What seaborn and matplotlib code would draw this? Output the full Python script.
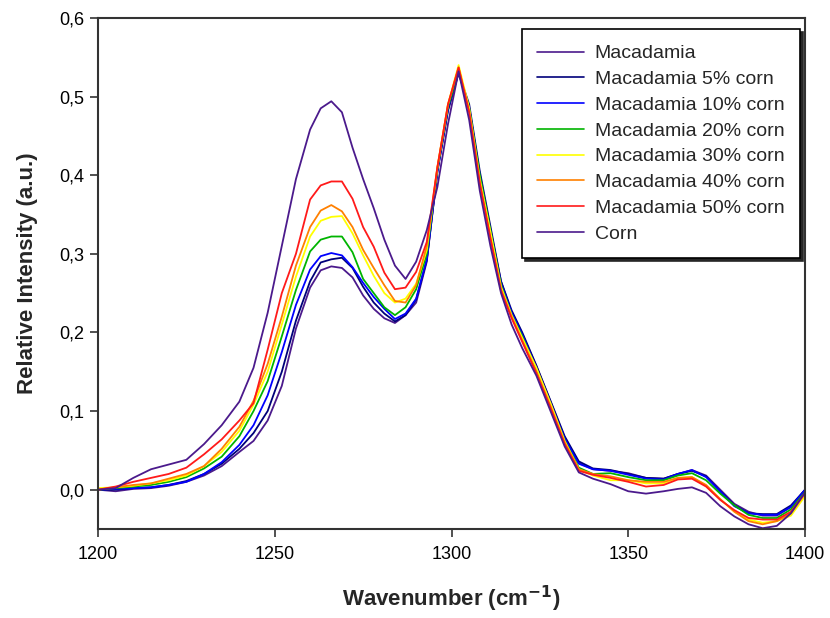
import numpy as np
import pandas as pd
import matplotlib
matplotlib.use("Agg")
import matplotlib.pyplot as plt
from matplotlib.ticker import FuncFormatter
import seaborn as sns

# Wavenumber grid (cm^-1)
wavenumber = [1200, 1205, 1210, 1215, 1220, 1225, 1230, 1235, 1240, 1244,
              1248, 1252, 1256, 1260, 1263, 1266, 1269, 1272, 1275, 1278,
              1281, 1284, 1287, 1290, 1293, 1296, 1299, 1302, 1305, 1308,
              1311, 1314, 1317, 1320, 1324, 1328, 1332, 1336, 1340, 1345,
              1350, 1355, 1360, 1364, 1368, 1372, 1376, 1380, 1384, 1388,
              1392, 1396, 1400]

macadamia = [0.000, -0.002, 0.001, 0.002, 0.005, 0.010, 0.018, 0.030, 0.048, 0.062,
             0.088, 0.132, 0.205, 0.257, 0.279, 0.284, 0.282, 0.270, 0.247, 0.230,
             0.218, 0.212, 0.222, 0.238, 0.290, 0.405, 0.482, 0.530, 0.485, 0.400,
             0.330, 0.265, 0.225, 0.198, 0.157, 0.112, 0.066, 0.034, 0.026, 0.024,
             0.021, 0.015, 0.014, 0.020, 0.025, 0.018, 0.000, -0.018, -0.028, -0.033,
             -0.033, -0.022, 0.000]

mac_5 = [0.000, 0.000, 0.002, 0.003, 0.006, 0.011, 0.020, 0.033, 0.052, 0.072,
         0.100, 0.150, 0.215, 0.265, 0.289, 0.293, 0.295, 0.282, 0.258, 0.238,
         0.224, 0.214, 0.222, 0.242, 0.292, 0.405, 0.483, 0.530, 0.490, 0.405,
         0.335, 0.265, 0.228, 0.200, 0.158, 0.113, 0.068, 0.036, 0.027, 0.025,
         0.020, 0.015, 0.014, 0.020, 0.024, 0.017, -0.002, -0.020, -0.030, -0.031,
         -0.031, -0.020, 0.000]

mac_10 = [0.000, 0.001, 0.002, 0.003, 0.006, 0.010, 0.020, 0.035, 0.057, 0.082,
          0.120, 0.175, 0.235, 0.280, 0.297, 0.301, 0.298, 0.283, 0.263, 0.245,
          0.230, 0.217, 0.224, 0.243, 0.293, 0.405, 0.485, 0.533, 0.485, 0.400,
          0.330, 0.262, 0.225, 0.197, 0.155, 0.110, 0.065, 0.033, 0.026, 0.024,
          0.019, 0.014, 0.013, 0.020, 0.025, 0.016, -0.002, -0.021, -0.030, -0.032,
          -0.032, -0.022, 0.000]

mac_20 = [0.000, 0.002, 0.004, 0.006, 0.010, 0.016, 0.027, 0.042, 0.068, 0.100,
          0.138, 0.195, 0.254, 0.303, 0.318, 0.322, 0.322, 0.302, 0.268, 0.250,
          0.232, 0.222, 0.232, 0.255, 0.300, 0.408, 0.487, 0.532, 0.485, 0.400,
          0.330, 0.260, 0.222, 0.195, 0.152, 0.108, 0.062, 0.028, 0.020, 0.021,
          0.016, 0.012, 0.012, 0.018, 0.021, 0.012, -0.005, -0.020, -0.032, -0.036,
          -0.036, -0.025, -0.003]

mac_30 = [0.002, 0.003, 0.005, 0.008, 0.012, 0.018, 0.030, 0.048, 0.075, 0.108,
          0.150, 0.210, 0.271, 0.322, 0.342, 0.347, 0.348, 0.326, 0.298, 0.272,
          0.250, 0.238, 0.243, 0.262, 0.305, 0.410, 0.490, 0.540, 0.485, 0.395,
          0.328, 0.258, 0.222, 0.193, 0.155, 0.110, 0.062, 0.026, 0.018, 0.012,
          0.012, 0.008, 0.008, 0.015, 0.016, 0.005, -0.012, -0.028, -0.038, -0.042,
          -0.040, -0.033, -0.008]

mac_40 = [0.000, 0.003, 0.006, 0.008, 0.014, 0.020, 0.030, 0.052, 0.080, 0.113,
          0.160, 0.220, 0.285, 0.334, 0.355, 0.362, 0.354, 0.334, 0.305, 0.282,
          0.260, 0.240, 0.238, 0.260, 0.310, 0.410, 0.490, 0.537, 0.480, 0.390,
          0.320, 0.255, 0.220, 0.190, 0.150, 0.106, 0.060, 0.026, 0.020, 0.017,
          0.012, 0.010, 0.010, 0.015, 0.016, 0.006, -0.012, -0.028, -0.040, -0.044,
          -0.040, -0.030, -0.005]

mac_50 = [0.000, 0.004, 0.010, 0.015, 0.020, 0.028, 0.045, 0.064, 0.088, 0.110,
          0.178, 0.250, 0.300, 0.369, 0.387, 0.392, 0.392, 0.370, 0.334, 0.309,
          0.276, 0.255, 0.257, 0.277, 0.315, 0.410, 0.490, 0.537, 0.480, 0.390,
          0.320, 0.253, 0.218, 0.188, 0.148, 0.104, 0.058, 0.024, 0.019, 0.015,
          0.010, 0.004, 0.006, 0.013, 0.014, 0.004, -0.013, -0.026, -0.036, -0.038,
          -0.038, -0.028, -0.004]

corn = [0.000, 0.002, 0.015, 0.026, 0.032, 0.038, 0.058, 0.082, 0.112, 0.155,
        0.225, 0.310, 0.395, 0.458, 0.485, 0.494, 0.480, 0.435, 0.395, 0.358,
        0.318, 0.285, 0.268, 0.290, 0.330, 0.385, 0.465, 0.532, 0.470, 0.380,
        0.310, 0.250, 0.210, 0.180, 0.145, 0.100, 0.055, 0.022, 0.014, 0.007,
        -0.002, -0.005, -0.002, 0.001, 0.003, -0.004, -0.021, -0.034, -0.044, -0.049,
        -0.046, -0.030, -0.003]

labels = ["Macadamia", "Macadamia 5% corn", "Macadamia 10% corn",
          "Macadamia 20% corn", "Macadamia 30% corn", "Macadamia 40% corn",
          "Macadamia 50% corn", "Corn"]
series = [macadamia, mac_5, mac_10, mac_20, mac_30, mac_40, mac_50, corn]
colors = ["#4B1A8C", "#00007A", "#0000FF", "#00B400", "#FFFF00",
          "#FF8000", "#FF1A1A", "#4B1A8C"]

frames = [pd.DataFrame({"Wavenumber": wavenumber, "Intensity": vals, "Sample": name})
          for name, vals in zip(labels, series)]
df = pd.concat(frames, ignore_index=True)

sns.set_style("ticks")
plt.rcParams["font.family"] = ["Liberation Sans", "DejaVu Sans"]

fig = plt.figure(figsize=(8.3, 6.18), dpi=100)
ax = fig.add_axes([0.118, 0.144, 0.852, 0.827])

sns.lineplot(data=df, x="Wavenumber", y="Intensity", hue="Sample",
             hue_order=labels, palette=dict(zip(labels, colors)),
             linewidth=1.3, ax=ax, sort=False, estimator=None)

ax.set_xlim(1200, 1400)
ax.set_ylim(-0.05, 0.6)
ax.set_xticks([1200, 1250, 1300, 1350, 1400])
ax.set_yticks([0.0, 0.1, 0.2, 0.3, 0.4, 0.5, 0.6])
ax.yaxis.set_major_formatter(FuncFormatter(lambda v, p: f"{v:.1f}".replace(".", ",")))
ax.tick_params(axis="both", direction="out", length=6, width=1.2,
               colors="#333333", labelsize=13, labelcolor="black")
ax.tick_params(axis="x", pad=6)
ax.tick_params(axis="y", pad=4)

for sp in ax.spines.values():
    sp.set_color("#333333")
    sp.set_linewidth(1.5)
    sp.set_visible(True)

ax.set_xlabel("Wavenumber (cm$^{\\mathbf{-1}}$)", fontsize=16, fontweight="bold", labelpad=15)
ax.set_ylabel("Relative Intensity (a.u.)", fontsize=16, fontweight="bold", labelpad=15)

leg = ax.legend(loc="upper right", bbox_to_anchor=(0.993, 0.978), fontsize=14,
                frameon=True, fancybox=False, edgecolor="black",
                handlelength=2.4, handletextpad=0.55, labelspacing=0.42,
                borderpad=0.8, borderaxespad=0.0,
                shadow={"color": "0.15", "ox": 2, "oy": -2, "alpha": 1.0})
leg.get_frame().set_linewidth(1.2)
for line in leg.get_lines():
    line.set_linewidth(1.2)

fig.savefig("out.png", dpi=100, facecolor="white")
